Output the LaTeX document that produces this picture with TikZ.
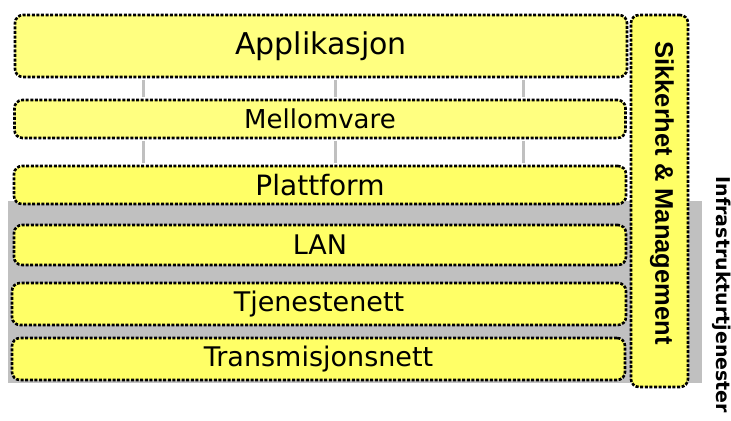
\documentclass[tikz,border=0pt]{standalone}
\usepackage{fontspec}
\setmainfont{DejaVu Sans}
\newfontfamily\sideb{Liberation Sans}[BoldFont={Liberation Sans Bold}]
\newfontfamily\heavy{DejaVu Sans Bold}
\definecolor{lyel}{HTML}{FFFF80}
\definecolor{yel}{HTML}{FFFF66}
\definecolor{band}{HTML}{C0C0C0}
\begin{document}
\begin{tikzpicture}[x=1bp,y=-1bp,
  layer/.style={draw=black, fill=yel, line width=2.6bp, dash pattern=on 3bp off 1.6bp,
    rounded corners=8bp, inner sep=0pt, font=\fontsize{27bp}{30bp}\selectfont},
  link/.style={draw=band, line width=3bp}]
\useasboundingbox (0,0) rectangle (731,420);
% grey infrastructure band
\fill[band] (8,201) rectangle (702,383);
% layers
\node[layer, fill=lyel, minimum width=612bp, minimum height=62bp,
  font=\fontsize{30bp}{32bp}\selectfont] (app) at (321,46) {Applikasjon};
\node[layer, fill=lyel, minimum width=611bp, minimum height=38bp,
  font=\fontsize{26bp}{28bp}\selectfont] (mid) at (320,119) {Mellomvare};
\node[layer, minimum width=612bp, minimum height=38bp,
  font=\fontsize{28bp}{30bp}\selectfont] (plat) at (320,185) {Plattform};
\node[layer, minimum width=612bp, minimum height=40bp] (lan) at (320,245) {LAN};
\node[layer, minimum width=614bp, minimum height=42bp] (tjen) at (319,304) {Tjenestenett};
\node[layer, minimum width=613bp, minimum height=42bp] (trans) at (318.5,359) {Transmisjonsnett};
% security & management column
\node[layer, minimum width=57bp, minimum height=372bp] (sec) at (659.5,201) {};
\node[rotate=-90, font=\sideb\bfseries\fontsize{25.5bp}{28bp}\selectfont] (sectxt) at (662,193) {Sikkerhet \& Management};
% infrastructure label
\node[rotate=-90, font=\heavy\fontsize{19bp}{21bp}\selectfont] (infra) at (722,295) {Infrastrukturtjenester};
% connectors
\coordinate (c1) at (143,0);
\coordinate (c2) at (335,0);
\coordinate (c3) at (523,0);
\foreach \c in {c1,c2,c3}{
  \draw[link] (app.south -| \c) ++(0,1.5) -- ([yshift=1.5bp]mid.north -| \c);
  \draw[link] (mid.south -| \c) ++(0,1.5) -- ([yshift=1.5bp]plat.north -| \c);
}
\end{tikzpicture}
\end{document}
